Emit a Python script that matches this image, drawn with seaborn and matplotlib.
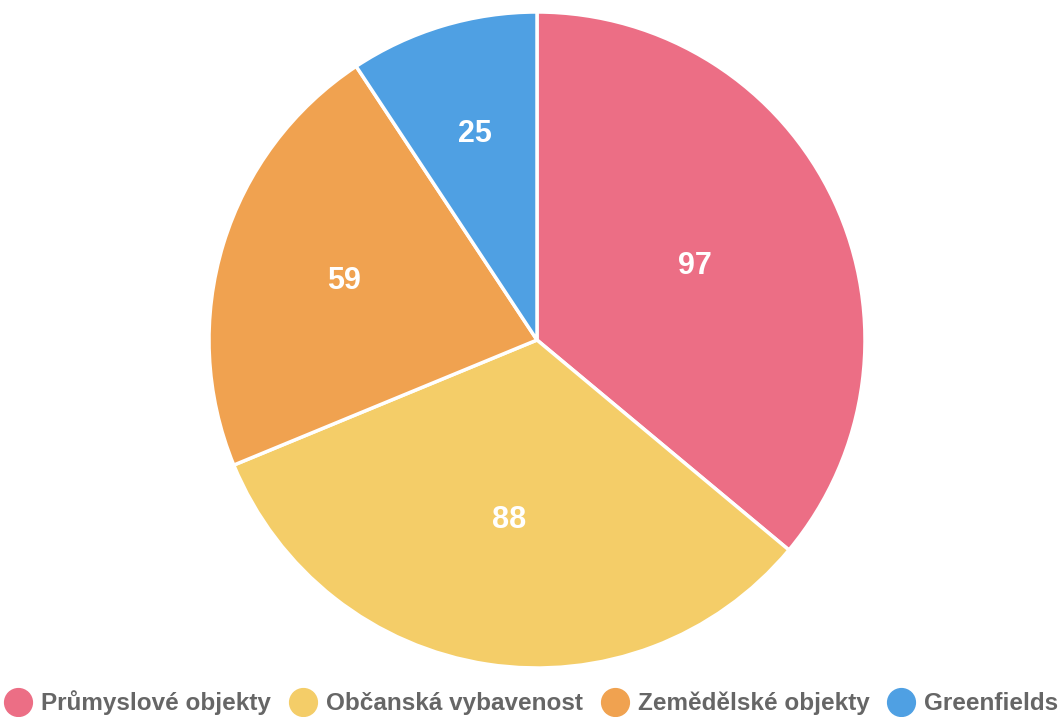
import numpy as np
import matplotlib
matplotlib.use("Agg")
import matplotlib.pyplot as plt
from matplotlib.lines import Line2D
import seaborn as sns

categories = ["Průmyslové objekty", "Občanská vybavenost", "Zemědělské objekty", "Greenfields"]
values = [97, 88, 59, 25]
colors = ["#EC6E85", "#F4CD68", "#F0A250", "#4FA0E3"]

sns.set_style("white")
plt.rcParams["font.family"] = ["Liberation Sans", "DejaVu Sans"]

fig = plt.figure(figsize=(10.62, 7.17), dpi=100)
ax = fig.add_axes([209 / 1062, 49 / 717, 656 / 1062, 656 / 717])

wedges, _ = ax.pie(values, colors=colors, startangle=90, counterclock=False,
                   radius=1, wedgeprops=dict(edgecolor="white", linewidth=2.5))
ax.set_xlim(-1, 1)
ax.set_ylim(-1, 1)
ax.set_aspect("equal")
ax.axis("off")

# labels at the centroid of each sector
for w, v in zip(wedges, values):
    half = np.deg2rad(abs(w.theta2 - w.theta1) / 2)
    mid = np.deg2rad((w.theta1 + w.theta2) / 2)
    d = 2 / 3 * np.sin(half) / half
    ax.text(d * np.cos(mid), d * np.sin(mid), str(v), ha="center", va="center",
            color="white", fontsize=22, fontweight="bold")

handles = [Line2D([], [], marker="o", linestyle="", markersize=20,
                  markerfacecolor=c, markeredgecolor=c) for c in colors]
leg = fig.legend(handles, categories, loc="center", bbox_to_anchor=(0.5, 1 - 703 / 717),
                 ncol=4, frameon=False, handletextpad=0.35, columnspacing=0.7,
                 handlelength=1.2, borderpad=0, prop=dict(size=17.5, weight="bold"))
for t in leg.get_texts():
    t.set_color("#666666")

fig.savefig("out.png", dpi=100)
